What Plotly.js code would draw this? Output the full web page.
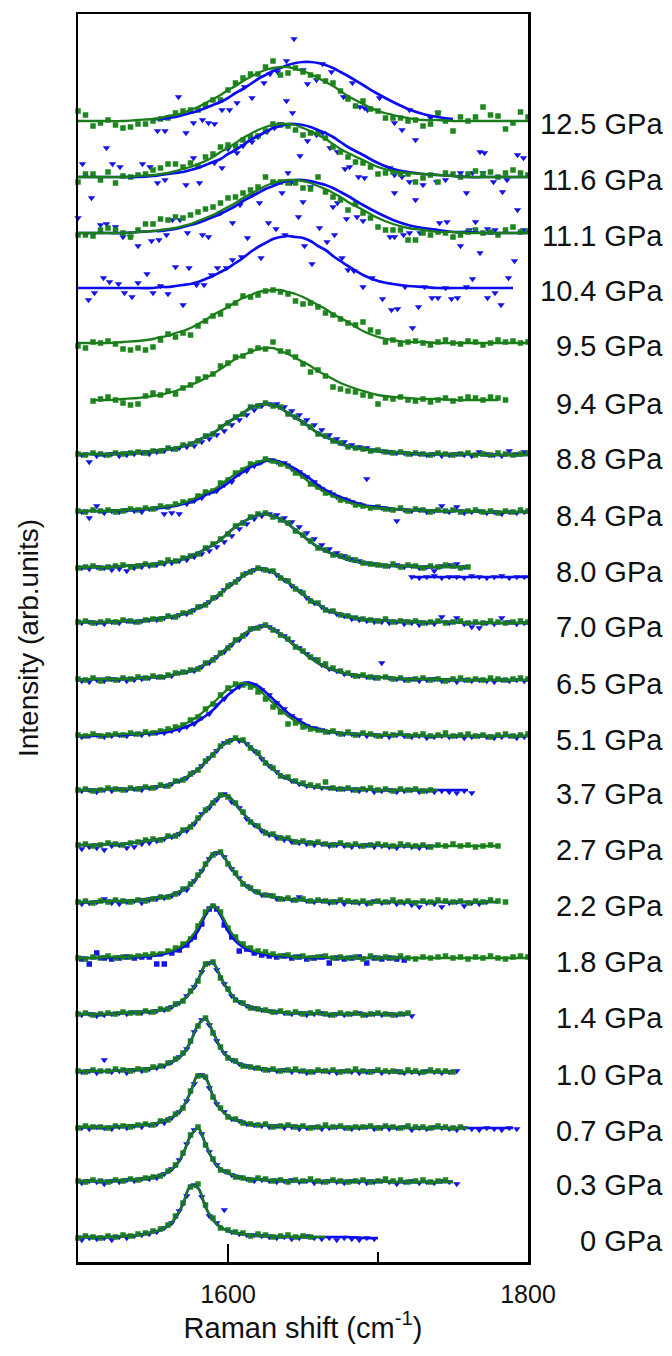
<!DOCTYPE html>
<html><head><meta charset="utf-8">
<script src="https://cdn.plot.ly/plotly-3.0.1.min.js"></script>
<style>html,body{margin:0;padding:0;background:#fff}#chart{width:672px;height:1356px}</style>
</head><body><div id="chart"></div>
<script>
// wavenumber grids (cm-1)
const FX = [1500,1510,1520,1530,1540,1550,1555,1560,1565,1570,1575,1580,1585,1590,1595,1600,1605,1610,1615,1620,1625,1630,1635,1640,1645,1650,1655,1660,1665,1670,1675,1680,1690,1700,1710,1720,1730,1740,1750,1760,1770,1780,1790,1800];
const DXG = [1500,1505,1510,1515,1520,1525,1530,1535,1540,1545,1550,1555,1560,1565,1570,1575,1580,1585,1590,1595,1600,1605,1610,1615,1620,1625,1630,1635,1640,1645,1650,1655,1660,1665,1670,1675,1680,1685,1690,1695,1700,1705,1710,1715,1720,1725,1730,1735,1740,1745,1750,1755,1760,1765,1770,1775,1780,1785,1790,1795,1800];
const DXB = [1502.5,1507.5,1512.5,1517.5,1522.5,1527.5,1532.5,1537.5,1542.5,1547.5,1552.5,1557.5,1562.5,1567.5,1572.5,1577.5,1582.5,1587.5,1592.5,1597.5,1602.5,1607.5,1612.5,1617.5,1622.5,1627.5,1632.5,1637.5,1642.5,1647.5,1652.5,1657.5,1662.5,1667.5,1672.5,1677.5,1682.5,1687.5,1692.5,1697.5,1702.5,1707.5,1712.5,1717.5,1722.5,1727.5,1732.5,1737.5,1742.5,1747.5,1752.5,1757.5,1762.5,1767.5,1772.5,1777.5,1782.5,1787.5,1792.5,1797.5];

const labels = ['0 GPa','0.3 GPa','0.7 GPa','1.0 GPa','1.4 GPa','1.8 GPa','2.2 GPa','2.7 GPa','3.7 GPa','5.1 GPa','6.5 GPa','7.0 GPa','8.0 GPa','8.4 GPa','8.8 GPa','9.4 GPa','9.5 GPa','10.4 GPa','11.1 GPa','11.6 GPa','12.5 GPa'];
const baselines = [24,80,134,190,247,303,359,415,471,525,581,638,693,749,806,861,919,974,1029,1085,1141];

// fitted curves (intensity above baseline, on FX)
const fit0 = [1,1,1,2,3,6,8,12,20,34,52,50,31,18,11,7,5,4,3,2,2,2,1,1,1,1,1,1,1,1,1,1,0,0];
const fit03 = [1,1,1,2,3,5,7,10,16,28,46,54,38,22,13,9,6,4,3,3,2,2,2,1,1,1,1,1,1,1,1,1,1,1,0,0,0,0,0];
const fit07 = [1,1,1,2,3,4,6,9,13,21,36,53,50,32,19,12,8,6,4,3,3,2,2,2,2,1,1,1,1,1,1,1,1,1,1,0,0,0,0,0,0,0,0];
const fit10 = [1,1,1,2,3,4,6,8,12,18,30,47,53,40,24,15,10,7,5,4,3,2,2,2,1,1,1,1,1,1,1,1,1,1,0,0,0,0,0];
const fit14 = [1,1,1,2,3,4,5,7,10,15,23,35,50,52,38,25,16,11,8,6,4,3,3,2,2,2,2,1,1,1,1,1,1,1,1,1];
const fitG18 = [1,1,2,2,3,4,6,7,10,14,21,32,46,54,46,32,21,14,10,7,6,4,4,3,2,2,2,2,2,1,1,1,1,1,1,1,1,1,1,1,1,1,1,1];
const fitB18 = [1,1,1,2,2,3,4,6,8,12,18,28,44,54,44,28,18,12,8,6,4,3,3,2,2,2,1,1,1,1,1,1,1,1,1,1];
const fit22 = [1,1,2,2,3,5,6,7,10,13,18,27,38,49,50,40,29,20,14,10,8,6,5,4,3,3,2,2,2,2,2,1,1,1,1,1,1,1,1,1,1,1];
const fit27 = [2,2,3,3,5,7,8,10,12,16,21,28,36,45,51,51,43,34,26,20,15,12,10,8,6,5,5,4,3,3,3,2,2,2,1,1,1,1,1,1,1,1];
const fit37 = [1,1,2,2,3,4,5,6,9,12,16,22,29,37,44,50,52,50,44,37,29,22,16,12,9,6,5,4,3,3,2,2,2,1,1,1,1,1,1,1];
const fitG51 = [1,2,2,3,3,5,6,7,9,12,16,21,27,34,41,48,52,54,52,48,41,34,27,21,16,12,9,7,6,5,4,3,3,2,2,2,1,1,1,1,1,1,1,1];
const fitB51 = [1,1,2,2,3,4,4,5,7,9,12,16,21,27,35,42,48,53,54,51,45,38,31,24,19,14,10,8,6,5,4,3,3,2,2,2,1,1,1,1,1,1,1,1];
const fit65 = [1,2,2,2,3,4,4,5,7,8,10,13,17,22,27,34,40,46,51,54,55,52,47,41,35,29,23,18,14,11,9,7,5,4,3,2,2,2,1,1,1,1,1,1];
const fit70 = [2,2,2,3,3,5,6,7,8,10,13,16,20,25,31,37,43,48,53,55,55,52,47,42,36,30,24,20,15,12,10,8,5,4,3,3,2,2,2,1,1,1,1,1];
const fit80 = [2,2,2,3,4,5,6,7,8,10,13,16,20,24,29,36,42,47,51,54,55,53,50,45,39,33,27,22,18,15,12,9,6,4,3,3,2,2,2,2];
const fitG84 = [2,2,2,3,4,5,6,7,8,10,13,16,20,23,28,34,39,44,48,51,53,52,50,46,41,36,30,25,21,17,14,11,7,5,4,3,3,2,2,2,1,1,1,1];
const fitB84 = [2,2,2,3,3,5,5,6,7,9,11,14,18,21,25,30,36,41,46,49,52,53,51,48,44,39,34,28,23,19,16,13,8,6,4,3,3,2,2,2,1,1,1,1];
const fit88 = [2,2,2,3,4,5,6,7,8,10,12,16,19,23,28,34,38,43,48,51,52,51,48,43,38,34,28,23,19,16,12,10,7,5,4,3,2,2,2,2,1,1,1,1];
const fit94 = [null,1,1,2,3,5,6,8,10,13,16,19,23,27,32,37,42,46,49,52,53,53,50,47,43,39,35,30,26,22,18,15,10,6,4,3,2,2,1,1,1,1];
const fit95 = [0,0,0,1,2,4,6,7,10,12,15,19,23,28,32,36,41,45,48,51,52,53,53,51,49,46,42,38,34,29,25,21,12,6,3,1,1,0,0,0,0,0,0,0];
const fit104 = [0,0,0,0,0,0,1,1,2,3,4,6,9,12,16,20,25,30,36,41,45,49,51,52,51,50,47,42,38,32,27,22,13,7,4,2,1,0,0,0,0,0,0];
const fitG111 = [0,0,0,0,1,2,3,4,5,7,9,12,15,18,22,26,30,35,39,43,47,50,52,53,53,52,50,47,44,40,36,31,23,15,9,5,3,1,1,0,0,0,0,0];
const fitB111 = [0,0,0,0,1,2,2,3,4,6,8,10,13,16,19,23,27,32,36,40,44,47,50,52,53,53,52,50,48,45,41,37,28,20,13,8,5,3,1,1,0,0,0,0];
const fitG116 = [0,0,0,0,1,2,3,4,6,8,10,13,16,20,25,29,34,39,43,47,50,52,53,53,52,49,46,42,38,33,28,24,17,10,6,4,3,2,1,0,0,0,0,0];
const fitB116 = [0,0,0,0,0,1,2,3,4,5,7,9,12,15,18,23,27,32,37,41,45,49,51,53,53,52,50,47,44,40,35,30,22,14,8,5,3,2,1,0,0,0,0,0];
const fitG125 = [0,0,0,0,1,2,3,5,6,8,11,14,18,22,26,31,35,40,44,48,51,53,54,54,52,50,47,43,39,35,30,25,17,10,6,3,1,1,0,0,0,0,0,0];
const fitB125 = [0,0,0,0,1,2,2,3,4,6,8,10,13,16,19,23,28,32,37,42,46,50,53,56,58,59,59,58,56,53,49,45,36,27,19,12,7,4,2,1,1,0,0,0];

// measured points: green squares on DXG, blue triangles on DXB (intensity above baseline)
const g0 = [0,2,1,0,2,1,3,2,4,5,7,9,13,22,35,51,54,33,20,10,8,6,5,2,4,3,1,2,3,1,2,1];
const b0 = [-2,0,-1,0,-2,1,0,2,3,4,6,10,15,27,42,53,41,22,15,28,6,4,3,3,2,1,0,1,-1,0,2,0,-1,0,-2,0,-1,-2,0,-1];
const g03 = [1,0,2,1,0,2,1,3,2,4,5,6,11,17,29,47,55,37,23,12,10,5,4,2,4,3,1,2,0,2,1,3,1,0,2,1,0,1,2,0,1,3,1,2,0,1,2,0,1,2];
const b03 = [-1,1,0,-2,1,0,2,1,3,3,4,8,13,22,38,52,48,30,17,11,7,5,3,1,2,1,0,1,2,0,1,-1,0,1,0,-1,1,0,-1,0,1,0,-2,0,1,-1,0,-1,1,0,-2];
const g07 = [0,2,1,1,0,2,2,1,3,4,3,7,8,14,20,37,52,51,31,20,11,9,5,4,3,4,1,2,3,1,2,0,1,3,1,2,0,1,1,2,0,2,1,0,2,1,1,0,2,1,0,1];
const b07 = [0,-1,1,0,-1,1,0,2,1,3,4,5,10,16,27,44,53,40,24,16,9,7,4,3,2,1,2,0,1,-1,0,1,-1,0,1,0,-1,0,1,-1,0,-1,0,1,-2,0,-1,1,0,-1,-2,0,-1,-2,0,-1,-2,0,-1];
const g10 = [1,0,2,1,1,3,2,1,3,2,5,6,9,13,19,31,46,54,39,25,14,11,6,5,4,2,3,1,2,3,1,0,2,1,2,0,1,3,1,0,2,1,1,0,2,1,0,2,1,1,0];
const b10 = [0,1,-1,12,0,1,-1,2,1,3,4,6,10,15,23,40,52,47,31,19,12,8,6,4,3,2,1,2,0,1,-1,0,1,0,-1,1,0,-1,0,1,-1,0,1,-1,0,-1,1,0,-1,0,1];
const g14 = [1,2,0,1,2,1,3,2,2,4,3,6,6,11,14,24,34,51,53,37,26,15,12,7,6,5,3,4,2,3,1,2,3,1,0,2,1,2,0,1,2,1,0,1,2];
const b14 = [0,1,-1,0,1,2,1,3,2,3,4,5,8,12,19,28,43,52,45,31,19,13,9,7,5,4,3,2,1,2,0,1,2,0,1,0,1,2,0,1,0,1,0,1,-1];
const g18 = [1,0,2,1,3,1,2,2,3,4,5,5,8,11,15,20,33,47,53,47,31,22,15,11,8,7,5,3,4,2,3,1,2,3,1,2,1,2,0,3,1,2,1,3,1,0,2,1,2,3,1,2,0,2,1,3,1,0,2,3,2];
const b18 = [0,-5,6,1,0,1,2,1,2,2,-5,-5,6,9,14,22,35,50,50,34,22,8,10,6,4,3,2,3,1,2,0,1,2,-4,1,0,1,2,-4,1,0,1,0,-1];
const g22 = [1,2,0,2,1,3,2,1,3,2,4,6,6,9,14,19,28,39,48,51,39,30,19,15,11,8,7,4,5,3,4,2,3,2,1,3,2,1,2,0,2,1,3,1,2,0,2,1,3,2,1,2,0,2,1,3,2,1];
const b22 = [-1,0,1,4,0,-1,1,2,0,3,4,5,7,10,13,22,32,44,50,46,34,25,17,12,8,8,4,4,3,6,2,1,2,0,1,-1,1,0,-1,2,0,1,-1,0,-2,-4,0,-1,-4,0,1,-3,0,-1,1];
const g27 = [2,3,1,2,4,3,2,4,5,7,8,7,11,11,17,20,29,37,44,52,50,44,35,25,21,14,13,9,9,5,6,4,5,3,2,4,2,3,1,2,3,2,1,3,2,1,2,0,2,1,3,1,2,0,1,2,1];
const b27 = [-2,0,-1,-3,1,2,-1,0,3,4,6,8,10,13,16,23,33,39,47,53,45,39,28,22,16,12,9,7,5,4,3,2,3,1,2,1,0,1,2,0,1,0,-1,1,0,-1,0];
const g37 = [1,2,0,1,3,2,1,3,2,4,3,6,5,10,11,17,21,30,36,45,49,53,51,43,38,28,23,15,14,10,8,6,5,9,3,2,3,1,2,3,1,2,0,2,1,2,0,1];
const b37 = [0,1,-1,1,0,2,1,2,1,3,4,5,7,10,13,19,25,33,40,48,51,50,47,40,32,25,19,14,10,7,5,4,3,3,2,2,1,0,1,-1,0,1,-1,0,1,-1,0,-1,0,-1,-2,0,-2];
const g51 = [2,1,3,1,2,3,2,4,3,5,4,6,8,10,12,17,20,28,33,42,49,53,52,50,45,38,30,25,13,14,10,8,7,5,6,3,5,2,4,3,1,3,2,4,1,2,3,1,2,4,1,2,3,1,2,0,2,3,1,2,3];
const b51 = [0,1,2,0,1,2,1,3,2,3,4,4,6,7,10,13,19,23,32,38,46,50,54,52,47,42,34,28,21,17,11,9,7,5,4,3,3,2,1,2,1,0,2,1,0,1,-1,0,1,0,1,-1,0,1,0,-1,0,1,-1,0];
const g65 = [2,1,3,0,2,1,3,2,4,3,5,4,6,8,9,11,12,18,21,28,33,41,45,52,53,56,51,46,42,34,30,24,21,17,13,10,8,5,6,4,3,4,2,3,1,2,3,1,2,0,2,3,1,2,1,3,2,1,2,3,2];
const b65 = [0,-1,1,0,2,1,0,1,2,3,4,4,5,8,9,10,14,18,24,29,36,41,47,53,55,54,50,45,39,33,27,22,16,12,10,7,6,5,4,3,18,3,2,1,2,0,1,2,0,1,-1,1,0,1,0,-1,1,0,1,0];
const g70 = [2,3,1,2,3,2,4,3,2,4,5,5,8,7,11,12,17,19,26,30,38,42,49,52,56,54,53,46,43,35,31,23,21,14,13,9,8,6,5,4,3,5,2,3,2,3,1,2,3,1,2,3,1,2,1,3,2,1,2,3,2];
const b70 = [1,2,1,0,2,1,3,2,3,4,4,6,7,9,10,14,18,22,27,34,40,45,51,54,55,53,49,44,38,33,26,21,17,13,10,8,5,4,3,2,2,1,2,0,1,-1,1,0,7,1,6,0,-3,-4,1,0,6,2,0,1];
const g80 = [1,2,3,1,2,3,4,2,3,5,4,6,9,8,11,13,15,21,25,30,35,43,46,52,55,56,52,49,46,38,34,28,21,19,14,13,11,9,6,5,4,3,5,2,4,3,1,3,2,4,3,1,2];
const b80 = [1,0,2,1,-1,0,-2,1,2,3,4,5,6,8,9,12,15,18,22,27,33,40,45,50,53,55,54,51,47,42,36,30,24,20,16,13,10,8,6,5,4,3,4,2,3,1,2,-2,3,4,5,2];
const b80tail = [-8,-9,-8,-7,-9,-8,-8,-9,-7,-8,-9,-8,-7,-9,-8,-8];
const tailFitX = [1722,1800];
const tailFitY = [-8,-8];
const g84 = [2,1,3,2,3,1,2,4,3,5,4,7,6,9,11,12,17,21,22,30,33,40,43,49,50,54,52,49,47,40,37,29,26,20,18,13,12,8,7,5,6,4,3,5,2,4,3,1,3,2,3,1,2,3,1,2,0,2,1,3,2];
const b84 = [1,-5,7,0,2,1,3,2,1,4,5,-1,0,-1,9,12,15,20,22,28,31,39,42,47,51,53,51,50,44,41,36,31,24,21,16,14,11,9,34,6,5,4,-8,3,2,3,1,2,7,1,6,0,1,2,0,1,-1,1,0,1];
const g88 = [2,1,3,2,1,3,2,3,4,3,5,5,8,7,11,12,15,20,22,29,33,39,42,49,50,53,50,49,42,39,33,29,22,20,15,13,9,8,7,5,6,4,3,4,2,3,2,1,3,2,1,2,3,1,2,1,3,2,1,2,3];
const b88 = [1,-6,0,1,2,0,1,2,3,2,4,5,7,8,9,10,14,17,21,25,31,36,41,46,50,52,52,49,45,41,36,31,26,21,17,14,11,9,8,6,5,4,3,3,2,2,1,2,0,1,2,1,0,4,2,1,0,5,2,4];
const g94 = [null,null,0,2,4,1,-2,-4,-3,5,8,6,10,7,13,16,22,24,27,35,38,44,45,50,53,52,59,50,49,44,37,29,31,25,14,12,10,9,6,5,-3,3,2,4,1,0,2,-1,1,3,0,2,4,3,1,4,3,1];
const g95 = [-3,-5,1,0,2,-1,-6,-7,-5,-7,-4,3,9,6,10,8,17,22,27,29,37,40,47,46,48,52,53,51,49,42,39,40,36,30,28,24,20,18,21,13,11,1,3,-1,1,2,0,-2,1,3,0,-1,2,1,-2,0,3,1,2,0,1];
const x104 = [1507,1511,1517,1521,1527,1531,1536,1540,1546,1550,1555,1560,1565,1570,1574,1579,1584,1589,1593,1599,1603,1609,1613,1622,1632,1638,1651,1656,1666,1671,1676,1680,1684,1690,1696,1703,1709,1713,1718,1723,1727,1731,1736,1740,1745,1749,1753,1759,1763,1768,1773,1778,1782,1787,1791];
const y104 = [-12,-5,10,6,4,-5,-9,5,14,-5,2,-6,21,-17,20,3,3,13,20,20,28,31,50,30,59,53,42,24,46,53,30,18,17,1,10,-11,-22,-21,1,-40,-19,1,-10,-10,0,-11,-10,1,9,35,-10,-5,-17,10,27];
const g111 = [-2,-2,-3,3,5,3,0,-4,3,9,9,14,13,16,15,18,21,24,26,30,35,36,40,43,46,56,51,51,50,50,45,44,56,41,36,33,23,29,20,15,6,3,3,3,-7,-7,0,-2,1,0,-4,-2,1,3,0,1,-2,3,6,1,2];
const x111b = [1500,1515,1519,1525,1530,1535,1540,1549,1554,1559,1563,1568,1573,1583,1587,1595,1603,1608,1616,1621,1627,1636,1642,1647,1650,1655,1661,1670,1673,1679,1686,1690,1708,1711,1717,1721,1728,1741,1746,1755,1761,1765,1773,1778,1793,1797];
const y111b = [15,8,9,6,-4,-4,-13,-8,-7,-2,13,13,0,-2,-4,20,10,28,38,30,10,40,50,16,31,46,5,26,30,14,16,12,-4,-4,-2,0,0,10,11,-13,3,11,4,3,23,3];
const g116 = [-5,3,3,-3,5,-6,1,0,2,3,7,9,13,13,10,14,11,20,23,30,32,31,37,40,41,46,53,52,51,47,42,44,44,39,30,25,20,15,14,10,3,4,5,3,3,-5,-1,2,-5,4,3,0,3,6,3,5,0,4,7,4,2];
const x116b = [1503,1509,1519,1523,1528,1543,1548,1553,1558,1572,1577,1581,1591,1596,1600,1606,1610,1616,1620,1626,1631,1635,1640,1648,1653,1659,1663,1668,1673,1678,1681,1687,1691,1708,1711,1711,1716,1721,1725,1730,1739,1745,1755,1759,1763,1768,1770,1771,1777,1783,1786,1793,1797];
const y116b = [13,-21,29,13,10,13,10,-6,-3,-8,19,-6,14,9,28,24,31,35,40,45,49,53,4,21,36,42,44,29,25,8,10,0,-1,9,2,-16,0,-5,-23,-8,-5,-3,4,-16,4,25,4,24,-5,-15,-3,22,19];
const g125 = [10,6,-5,-2,1,-4,-7,-6,-3,-3,0,2,3,8,10,11,11,16,21,21,31,38,43,47,47,54,60,46,48,53,49,46,44,40,38,30,22,15,20,12,10,3,3,3,0,1,-5,-3,8,0,-10,4,0,4,14,6,5,-8,-2,9,4];
const x125b = [1553,1558,1567,1572,1577,1583,1587,1591,1596,1601,1606,1611,1616,1624,1628,1633,1639,1639,1643,1644,1650,1653,1659,1663,1669,1677,1679,1683,1688,1691,1693,1701,1711,1716,1721,1725,1735,1740];
const y125b = [-10,-10,24,-12,-2,1,-2,-3,11,11,18,34,23,38,47,49,60,20,8,82,51,37,41,57,49,24,24,38,14,13,11,23,-2,-9,11,-19,3,8];

const spectra = [
  {g:g0, b:b0, fg:fit0, fb:fit0},
  {g:g03, b:b03, fg:fit03, fb:fit03},
  {g:g07, b:b07, fg:fit07, fb:fit07},
  {g:g10, b:b10, fg:fit10, fb:fit10},
  {g:g14, b:b14, fg:fit14, fb:fit14},
  {g:g18, b:b18, fg:fitG18, fb:fitB18, bsym:'square'},
  {g:g22, b:b22, fg:fit22, fb:fit22},
  {g:g27, b:b27, fg:fit27, fb:fit27},
  {g:g37, b:b37, fg:fit37, fb:fit37},
  {g:g51, b:b51, fg:fitG51, fb:fitB51},
  {g:g65, b:b65, fg:fit65, fb:fit65},
  {g:g70, b:b70, fg:fit70, fb:fit70},
  {g:g80, b:b80, fg:fit80, fb:fit80},
  {g:g84, b:b84, fg:fitG84, fb:fitB84},
  {g:g88, b:b88, fg:fit88, fb:fit88},
  {g:g94, fg:fit94},
  {g:g95, fg:fit95},
  {bx:x104, b:y104, fb:fit104},
  {g:g111, bx:x111b, b:y111b, fg:fitG111, fb:fitB111},
  {g:g116, bx:x116b, b:y116b, fg:fitG116, fb:fitB116},
  {g:g125, bx:x125b, b:y125b, fg:fitG125, fb:fitB125}
];

const GREEN = '#1f861f', GREEN_LINE = '#1a7d1a', BLUE = '#1414e6', BLUE_LINE = '#0c0cf0';
const blueMarks = [], greenMarks = [], blueLines = [], greenLines = [];

function fitTrace(fit, xs, vals, base, color, width) {
  const px = xs.filter((x, i) => vals[i] !== null);
  const lo = Math.min(...px) - 10, hi = Math.max(...px) + 10;
  const fx = [], fy = [];
  fit.forEach((v, i) => {
    if (FX[i] >= lo && FX[i] <= hi) { fx.push(FX[i]); fy.push(v === null ? null : base + v); }
  });
  return {x: fx, y: fy, mode: 'lines', line: {color: color, width: width, shape: 'spline', smoothing: 1}, hoverinfo: 'skip', connectgaps: false};
}

spectra.forEach((s, k) => {
  const base = baselines[k];
  if (s.b) {
    const bx = (s.bx || DXB).slice(0, s.b.length);
    blueMarks.push({x: bx, y: s.b.map(v => v === null ? null : base + v), mode: 'markers',
      marker: {symbol: s.bsym || 'triangle-down', size: s.bsym ? 5.5 : 6.5, color: BLUE}, cliponaxis: false, hoverinfo: 'skip'});
    blueLines.push(fitTrace(s.fb, bx, s.b, base, BLUE_LINE, 2.7));
  }
  if (s.g) {
    const gx = DXG.slice(0, s.g.length);
    greenMarks.push({x: gx, y: s.g.map(v => v === null ? null : base + v), mode: 'markers',
      marker: {symbol: 'square', size: 5.5, color: GREEN}, cliponaxis: false, hoverinfo: 'skip'});
    greenLines.push(fitTrace(s.fg, gx, s.g, base, GREEN_LINE, 2.3));
  }
});
// 8.0 GPa: separate blue segment
const base80 = baselines[labels.indexOf('8.0 GPa')];
const tailX = DXB.slice(DXB.length - b80tail.length);
blueMarks.push({x: tailX, y: b80tail.map(v => base80 + v), mode: 'markers',
  marker: {symbol: 'triangle-down', size: 6.5, color: BLUE}, cliponaxis: false, hoverinfo: 'skip'});
blueLines.push({x: tailFitX, y: tailFitY.map(v => base80 + v), mode: 'lines', line: {color: BLUE_LINE, width: 2.7}, hoverinfo: 'skip'});

const FONT = 'Liberation Sans, Arial, Helvetica, sans-serif';
const annotations = labels.map((t, k) => ({
  text: t, xref: 'paper', yref: 'y', x: 1.3045, y: baselines[k] - 3,
  xanchor: 'right', yanchor: 'middle', showarrow: false,
  font: {family: FONT, size: 29, color: '#111'}
}));

const layout = {
  width: 672, height: 1356,
  margin: {l: 78, r: 144, t: 14, b: 94},
  paper_bgcolor: '#fff', plot_bgcolor: '#fff',
  showlegend: false,
  font: {family: FONT, color: '#111'},
  xaxis: {
    range: [1500, 1800], showgrid: false, zeroline: false,
    showline: true, mirror: true, linecolor: '#000', linewidth: 2.5,
    tick0: 1600, dtick: 200, ticks: 'inside', ticklen: 18, tickwidth: 2.5, tickcolor: '#000',
    ticklabelstandoff: 8,
    minor: {tick0: 1500, dtick: 100, ticks: 'inside', ticklen: 10, tickwidth: 2.5, tickcolor: '#000'},
    tickfont: {family: FONT, size: 25, color: '#111'},
    title: {text: 'Raman shift (cm<sup>-1</sup>)', font: {family: FONT, size: 29, color: '#111'}, standoff: 8}
  },
  yaxis: {
    range: [0, 1248], showgrid: false, zeroline: false,
    showline: true, mirror: true, linecolor: '#000', linewidth: 2.5,
    showticklabels: false, ticks: '',
    title: {text: 'Intensity (arb.units)', font: {family: FONT, size: 28, color: '#111'}, standoff: 29}
  },
  annotations: annotations
};

Plotly.newPlot('chart', [...blueMarks, ...greenMarks, ...blueLines, ...greenLines], layout, {displayModeBar: false, staticPlot: true});
</script>
</body></html>
